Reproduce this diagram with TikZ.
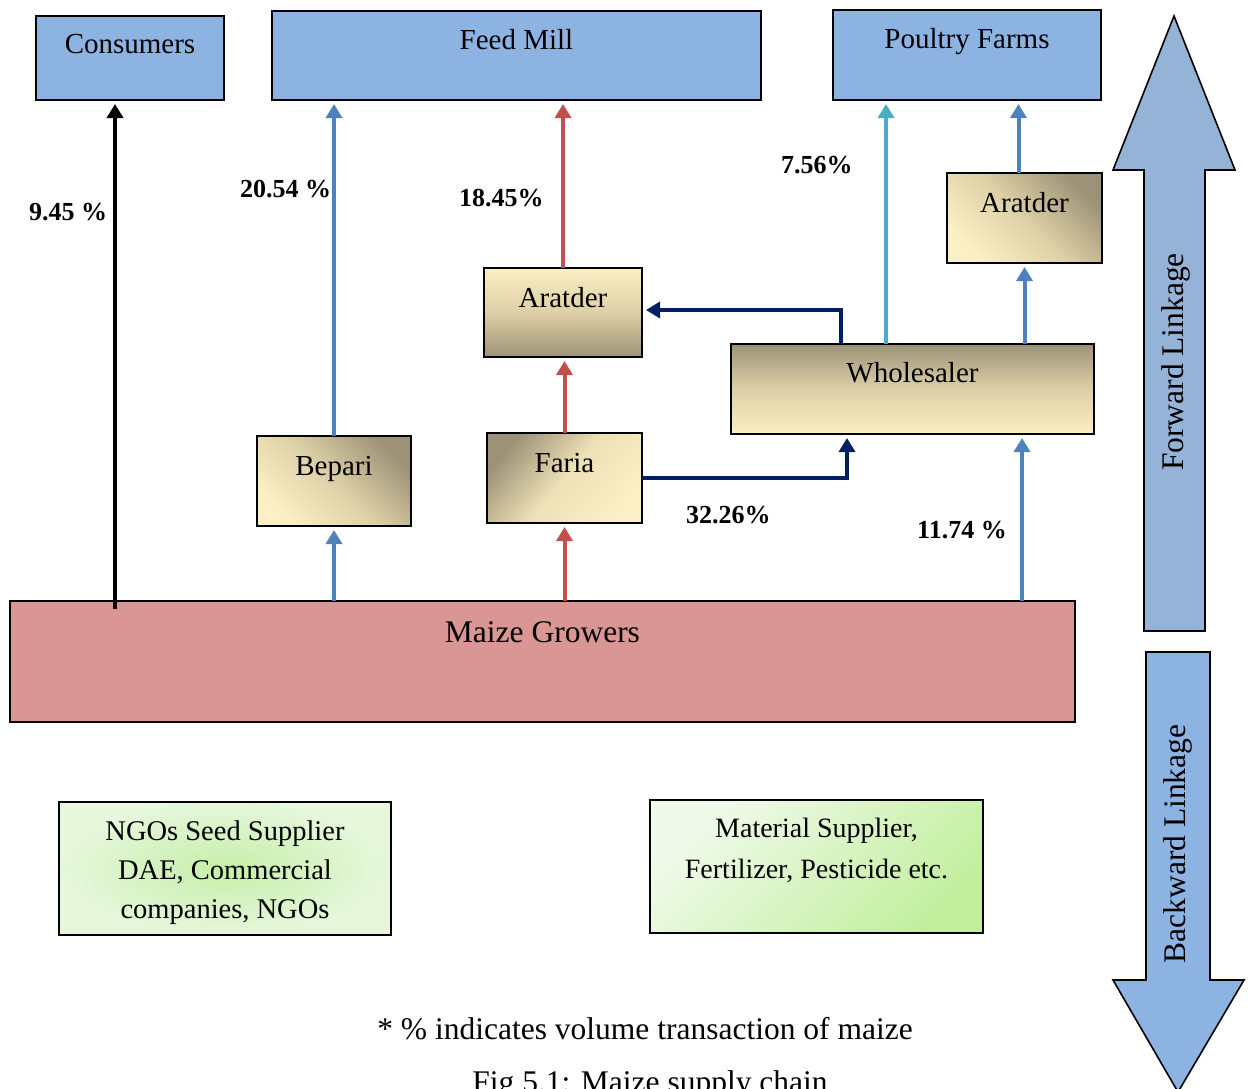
\documentclass[tikz,border=0pt]{standalone}
\usepackage{fontspec}
\setmainfont{Liberation Serif}
\usetikzlibrary{arrows.meta,calc}

\definecolor{boxblue}{HTML}{8DB3E2}
\definecolor{maizefill}{HTML}{D99694}
\definecolor{fwdfill}{HTML}{95B3D7}
\definecolor{bwdfill}{HTML}{8DB3E2}
\definecolor{arrblue}{HTML}{4F81BD}
\definecolor{arrred}{HTML}{C0504D}
\definecolor{arrcyan}{HTML}{4BACC6}
\definecolor{arrnavy}{HTML}{002060}
\definecolor{tanlight}{HTML}{FBEFC5}
\definecolor{tanmid}{HTML}{DDD0A6}
\definecolor{tandark}{HTML}{9D9277}
\definecolor{greenin}{HTML}{C6EFA8}
\definecolor{greenout}{HTML}{E6F7DC}
\definecolor{matlight}{HTML}{F0FAEB}
\definecolor{matdark}{HTML}{C2EF9E}

% box content: width, height, first baseline below top, text
\newcommand{\boxtxt}[4]{\parbox[c][#2][t]{#1}{\centering\rule{0pt}{#3}#4}}

\tikzset{
  bx/.style={draw=black, line width=2pt, inner sep=0pt, outer sep=0pt,
             font=\fontsize{29}{35}\selectfont},
  bluebox/.style={bx, fill=boxblue},
  tanup/.style={bx, top color=tanlight, bottom color=tandark, middle color=tanmid},
  tandown/.style={bx, top color=tandark, bottom color=tanlight, middle color=tanmid},
  tandiagR/.style={bx, top color=tandark, bottom color=tanlight, middle color=tanmid, shading angle=-45},
  tandiagL/.style={bx, top color=tandark, bottom color=tanlight,
                   middle color=tanlight!55!tanmid, shading angle=50},
  conn/.style={line width=4pt, -{Triangle[width=16pt,length=14pt]}, shorten >=4pt},
  pct/.style={anchor=base west, inner sep=0pt, font=\bfseries\fontsize{26}{30}\selectfont},
  bigarrow/.style={draw=black, line width=1.6pt, line join=miter},
  bigtxt/.style={font=\fontsize{31.5}{36}\selectfont, inner sep=0pt},
}

\begin{document}
\begin{tikzpicture}[x=1pt, y=-1pt]
\useasboundingbox (0,0) rectangle (1250,1088);

% linkage arrows
\draw[bigarrow, fill=fwdfill] (1174,16) -- (1235,170) -- (1205,170) -- (1205,631)
  -- (1144,631) -- (1144,170) -- (1113,170) -- cycle;
\draw[bigarrow, fill=bwdfill] (1146,652) -- (1210,652) -- (1210,980) -- (1244,980)
  -- (1178,1092) -- (1113,980) -- (1146,980) -- cycle;
\node[bigtxt, rotate=90] (fwdtext) at (1176,362) {Forward Linkage};
\node[bigtxt, rotate=90] (bwdtext) at (1178,844) {Backward Linkage};

% end users
\node[bluebox] (consumers) at (130,58) {\boxtxt{188pt}{84pt}{37pt}{Consumers}};
\node[bluebox] (feed) at (516.5,55.5) {\boxtxt{489pt}{89pt}{38pt}{Feed Mill}};
\node[bluebox] (poultry) at (967,55) {\boxtxt{268pt}{90pt}{38pt}{Poultry Farms}};

% intermediaries
\node[tandiagR] (aratR) at (1024.5,218) {\boxtxt{155pt}{90pt}{39pt}{Aratder}};
\node[tanup] (aratM) at (563,312.5) {\boxtxt{158pt}{89pt}{39pt}{Aratder}};
\node[tandown] (whole) at (912.5,389) {\boxtxt{363pt}{90pt}{38pt}{Wholesaler}};
\node[tandiagR] (bepari) at (334,481) {\boxtxt{154pt}{90pt}{39pt}{Bepari}};
\node[tandiagL] (faria) at (564.5,478) {\boxtxt{155pt}{90pt}{39pt}{Faria}};

% growers
\node[bx, fill=maizefill, font=\fontsize{31.5}{36}\selectfont] (maize) at (542.5,661.5)
  {\boxtxt{1065pt}{121pt}{41pt}{Maize Growers}};

% input suppliers
\node[bx, inner color=greenin, outer color=greenout, font=\fontsize{28.5}{39}\selectfont]
  (ngo) at (225,868.5)
  {\boxtxt{332pt}{133pt}{38pt}{NGOs Seed Supplier\\DAE, Commercial\\companies, NGOs}};
\node[bx, top color=matlight, bottom color=matdark, shading angle=45,
      font=\fontsize{28}{41}\selectfont]
  (material) at (816.5,866.5)
  {\boxtxt{333pt}{133pt}{37pt}{Material Supplier,\\Fertilizer, Pesticide etc.}};

% connector ends
\coordinate (g1) at (115,609);
\coordinate (w1) at ($(whole.north west)+(110,0)$);
\coordinate (w2) at ($(whole.north west)+(155,0)$);
\coordinate (w3) at ($(whole.south west)+(116,0)$);
\coordinate (a1) at ($(aratR.north)+(-6,0)$);
\coordinate (m4) at ($(maize.north west)+(1012,0)$);
\coordinate (f1) at ($(aratM.east)+(0,-2.5)$);

% flows
\draw[conn, black] (g1) -- (g1 |- consumers.south);
\draw[conn, arrblue] (bepari.north) -- (bepari.north |- feed.south);
\draw[conn, arrred] (aratM.north) -- (aratM.north |- feed.south);
\draw[conn, arrcyan] (w2) -- (w2 |- poultry.south);
\draw[conn, arrblue] (a1) -- (a1 |- poultry.south);
\draw[conn, arrblue] (aratR.south |- whole.north) -- (aratR.south);
\draw[conn, arrnavy, line join=miter] (w1) |- (f1);
\draw[conn, arrred] (faria.north) -- (faria.north |- aratM.south);
\draw[conn, arrnavy, line join=miter] (faria.east) -| (w3);
\draw[conn, arrblue] (m4) -- (m4 |- whole.south);
\draw[conn, arrblue] (bepari.south |- maize.north) -- (bepari.south);
\draw[conn, arrred] (faria.south |- maize.north) -- (faria.south);

% shares
\node[pct] (p1) at (29,220) {9.45 \%};
\node[pct] (p2) at (240,197) {20.54 \%};
\node[pct] (p3) at (459,206) {18.45\%};
\node[pct] (p4) at (781,173) {7.56\%};
\node[pct] (p5) at (686,523) {32.26\%};
\node[pct] (p6) at (917,538) {11.74 \%};

% notes
\node[bigtxt, anchor=base] (note) at (645,1039) {* \% indicates volume transaction of maize};
\node[bigtxt, anchor=base] (caption) at (650,1092) {Fig 5.1: Maize supply chain};
\end{tikzpicture}
\end{document}
